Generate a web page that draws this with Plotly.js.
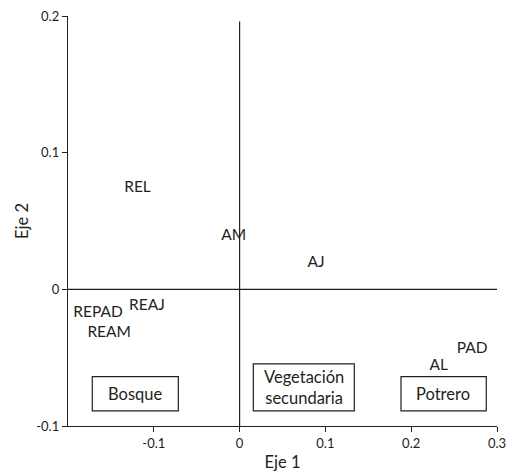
<!DOCTYPE html>
<html>
<head>
<meta charset="utf-8">
<script src="https://cdn.plot.ly/plotly-3.0.1.min.js"></script>
<style>html,body{margin:0;padding:0;background:#fff;}#chart{width:512px;height:473px;}</style>
</head>
<body>
<div id="chart"></div>
<script>
// Variable labels and their scores on the two axes
const labels = ["REL", "AM", "AJ", "REPAD", "REAJ", "REAM", "PAD", "AL"];
const eje1 = [-0.119, -0.007, 0.089, -0.165, -0.108, -0.152, 0.271, 0.232];
const eje2 = [0.074, 0.039, 0.0195, -0.0173, -0.0122, -0.032, -0.0437, -0.056];

// Habitat group labels
const groups = ["Bosque", "Vegetación<br>secundaria", "Potrero"];
const groupX = [-0.1215, 0.0748, 0.2374];
const groupY = [-0.0766, -0.0718, -0.0766];
const groupBoxes = [
  [-0.1717, -0.0714, -0.089, -0.0639],
  [0.016, 0.1337, -0.089, -0.0546],
  [0.1881, 0.2875, -0.089, -0.0639]
];

const xTicks = [-0.1, 0, 0.1, 0.2, 0.3];
const xTickText = ["-0.1", "0", "0.1", "0.2", "0.3"];
const yTicks = [-0.1, 0, 0.1, 0.2];
const yTickText = ["-0.1", "0", "0.1", "0.2"];

const ink = "#231f20";
const font = "Lato, 'Liberation Sans', sans-serif";

const trace = {
  x: eje1, y: eje2, text: labels,
  mode: "text", type: "scatter",
  textposition: "middle center",
  textfont: {family: font, size: 15.5, color: ink},
  hoverinfo: "skip", showlegend: false, cliponaxis: false
};

const shapes = [
  {type: "line", xref: "x", yref: "y", x0: 0, x1: 0, y0: -0.1, y1: 0.196, line: {color: ink, width: 1.2}},
  {type: "line", xref: "x", yref: "y", x0: -0.2, x1: 0.3, y0: 0, y1: 0, line: {color: ink, width: 1.2}}
].concat(groupBoxes.map(b => ({
  type: "rect", xref: "x", yref: "y", x0: b[0], x1: b[1], y0: b[2], y1: b[3],
  line: {color: ink, width: 1.2}, fillcolor: "rgba(0,0,0,0)"
})));

const annotations = groups.map((g, i) => ({
  x: groupX[i], y: groupY[i], xref: "x", yref: "y", text: g, showarrow: false,
  font: {family: font, size: 16.5, color: ink}, align: "center"
}));

const layout = {
  width: 512, height: 473,
  margin: {l: 68, r: 15, t: 16, b: 47},
  paper_bgcolor: "#fff", plot_bgcolor: "#fff",
  showlegend: false,
  xaxis: {
    range: [-0.2, 0.3], tickvals: xTicks, ticktext: xTickText,
    showgrid: false, zeroline: false, showline: true, linecolor: ink, linewidth: 1.2,
    ticks: "outside", ticklen: 5, tickcolor: ink, tickwidth: 1,
    tickfont: {family: font, size: 13, color: ink},
    title: {text: "Eje 1", font: {family: font, size: 16.5, color: ink}, standoff: 6}
  },
  yaxis: {
    range: [-0.1, 0.2], tickvals: yTicks, ticktext: yTickText,
    showgrid: false, zeroline: false, showline: true, linecolor: ink, linewidth: 1.2,
    ticks: "outside", ticklen: 5, tickcolor: ink, tickwidth: 1,
    tickfont: {family: font, size: 13, color: ink},
    title: {text: "Eje 2", font: {family: font, size: 16.5, color: ink}, standoff: 3}
  },
  shapes: shapes,
  annotations: annotations
};

Plotly.newPlot("chart", [trace], layout, {displayModeBar: false, staticPlot: true});
</script>
</body>
</html>
